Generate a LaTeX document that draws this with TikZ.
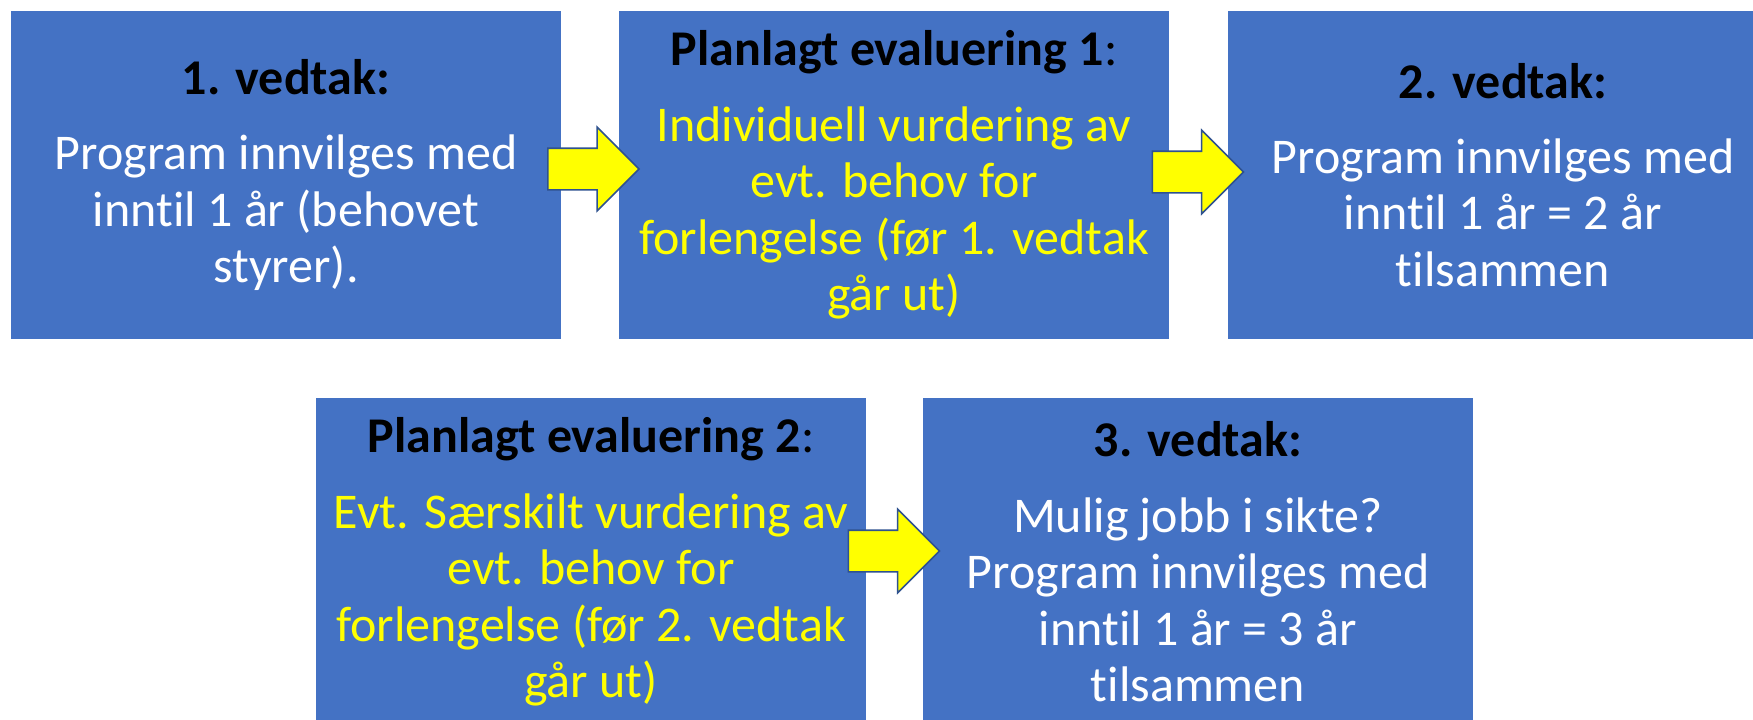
\documentclass[tikz,border=0pt]{standalone}
\usepackage{fontspec}
\setmainfont{Carlito}[Ligatures=NoCommon]
\usetikzlibrary{shapes.arrows,calc}
\definecolor{boxblue}{HTML}{4472C4}
\definecolor{arrowyellow}{HTML}{FFFF00}
\definecolor{arrowedge}{HTML}{2F528F}
\definecolor{textyellow}{HTML}{FFFF00}
\begin{document}
\begin{tikzpicture}[x=0.75pt,y=-0.75pt,
  box/.style={rectangle, fill=boxblue, draw=none, minimum width=412.5pt,
    minimum height=246pt, inner sep=0pt, align=center, text=white,
    font=\fontsize{37.5}{42.4}\selectfont},
  blockarrow/.style={single arrow, fill=arrowyellow, draw=arrowedge,
    line width=1.2pt, minimum height=68.25pt,
    single arrow head extend=15.75pt, single arrow tip angle=90,
    inner sep=0pt}]
\useasboundingbox (0,0) rectangle (1753,719);
\clip (0,0) rectangle (1753,719);
\fill[white] (0,0) rectangle (1753,719);

\node[box] (b1) at (286,175)
  {{\color{black}\bfseries 1. vedtak:}\\[14pt]
   Program innvilges med\\ inntil 1 år (behovet\\ styrer).};
\node[box] (b2) at (894,175)
  {{\color{black}\textbf{Planlagt evaluering 1}:}\\[14pt]
   {\color{textyellow}Individuell vurdering av}\\
   {\color{textyellow}evt. behov for}\\
   {\color{textyellow}forlengelse (før 1. vedtak}\\
   {\color{textyellow}går ut)}};
\node[box] (b3) at (1503,175)
  {{\color{black}\bfseries 2. vedtak:}\\[14pt]
   Program innvilges med\\ inntil 1 år = 2 år\\ tilsammen};
\node[box] (b4) at (591,562)
  {{\color{black}\textbf{Planlagt evaluering 2}:}\\[14pt]
   {\color{textyellow}Evt. Særskilt vurdering av}\\
   {\color{textyellow}evt. behov for}\\
   {\color{textyellow}forlengelse (før 2. vedtak}\\
   {\color{textyellow}går ut)}};
\node[box] (b5) at (1198,562)
  {{\color{black}\bfseries 3. vedtak:}\\[14pt]
   Mulig jobb i sikte?\\ Program innvilges med\\ inntil 1 år = 3 år\\ tilsammen};

\node[blockarrow] (a1) at ($(b1.east)!0.5!(b2.west)+(-7,-6)$) {\rule{0pt}{30pt}};
\node[blockarrow] (a2) at ($(b2.east)!0.5!(b3.west)+(-11,-3)$) {\rule{0pt}{30pt}};
\node[blockarrow] (a3) at ($(b4.east)!0.5!(b5.west)+(-11,-11)$) {\rule{0pt}{30pt}};
\end{tikzpicture}
\end{document}
